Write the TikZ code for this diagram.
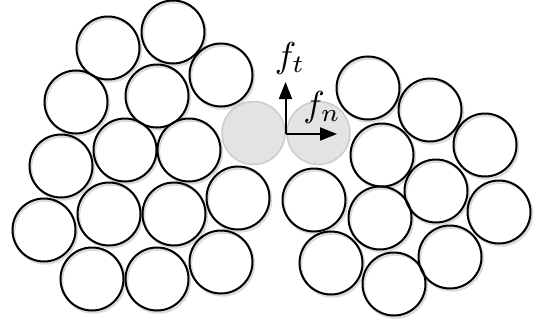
\documentclass[tikz,border=0pt]{standalone}
\usetikzlibrary{arrows.meta}
\begin{document}
\begin{tikzpicture}[x=1pt,y=-1pt,
  ball/.style={circle,draw=black,line width=2pt,minimum size=63pt,inner sep=0pt},
  shade/.style={circle,draw=black!14,line width=2.4pt,minimum size=63pt,inner sep=0pt},
  grain/.style={circle,draw=black!20,fill=black!11,line width=1.5pt,minimum size=63pt,inner sep=0pt},
  force/.style={line width=2pt,-{Triangle[length=17pt,width=13pt]}},
  lab/.style={scale=3.6,inner sep=0pt}]
\useasboundingbox (0,0) rectangle (538,332);
% shadows
\foreach \x/\y in {108/48,173/32,221/75,76/102,157/96,61/166,125/150,189/150,44/230,109/214,174/214,238/198,92/279,157/279,221/262,
  368/88,430/110,485/145,382/155,436/191,314/200,380/218,499/212,331/263,394/284,450/257}
  \node[shade] at (\x+1.5,\y+2) {};
% left cluster
\node[ball] (l1) at (108,48) {};
\node[ball] (l2) at (173,32) {};
\node[ball] (l3) at (221,75) {};
\node[ball] (l4) at (76,102) {};
\node[ball] (l5) at (157,96) {};
\node[ball] (l6) at (61,166) {};
\node[ball] (l7) at (125,150) {};
\node[ball] (l8) at (189,150) {};
\node[ball] (l9) at (44,230) {};
\node[ball] (l10) at (109,214) {};
\node[ball] (l11) at (174,214) {};
\node[ball] (l12) at (238,198) {};
\node[ball] (l13) at (92,279) {};
\node[ball] (l14) at (157,279) {};
\node[ball] (l15) at (221,262) {};
% right cluster
\node[ball] (r1) at (368,88) {};
\node[ball] (r2) at (430,110) {};
\node[ball] (r3) at (485,145) {};
\node[ball] (r4) at (382,155) {};
\node[ball] (r5) at (436,191) {};
\node[ball] (r6) at (314,200) {};
\node[ball] (r7) at (380,218) {};
\node[ball] (r8) at (499,212) {};
\node[ball] (r9) at (331,263) {};
\node[ball] (r10) at (394,284) {};
\node[ball] (r11) at (450,257) {};
% contact grains
\node[grain] (ga) at (253.5,133) {};
\node[grain] (gb) at (318.5,133) {};
% forces
\coordinate (o) at (285.5,134);
\coordinate (ft) at (285.5,82);
\coordinate (fn) at (337,134);
\draw[force] (o) -- (ft);
\draw[force] (o) -- (fn);
\node[lab] (lt) at (290,58) {$f_t$};
\node[lab] (ln) at (322,107) {$f_n$};
\end{tikzpicture}
\end{document}
